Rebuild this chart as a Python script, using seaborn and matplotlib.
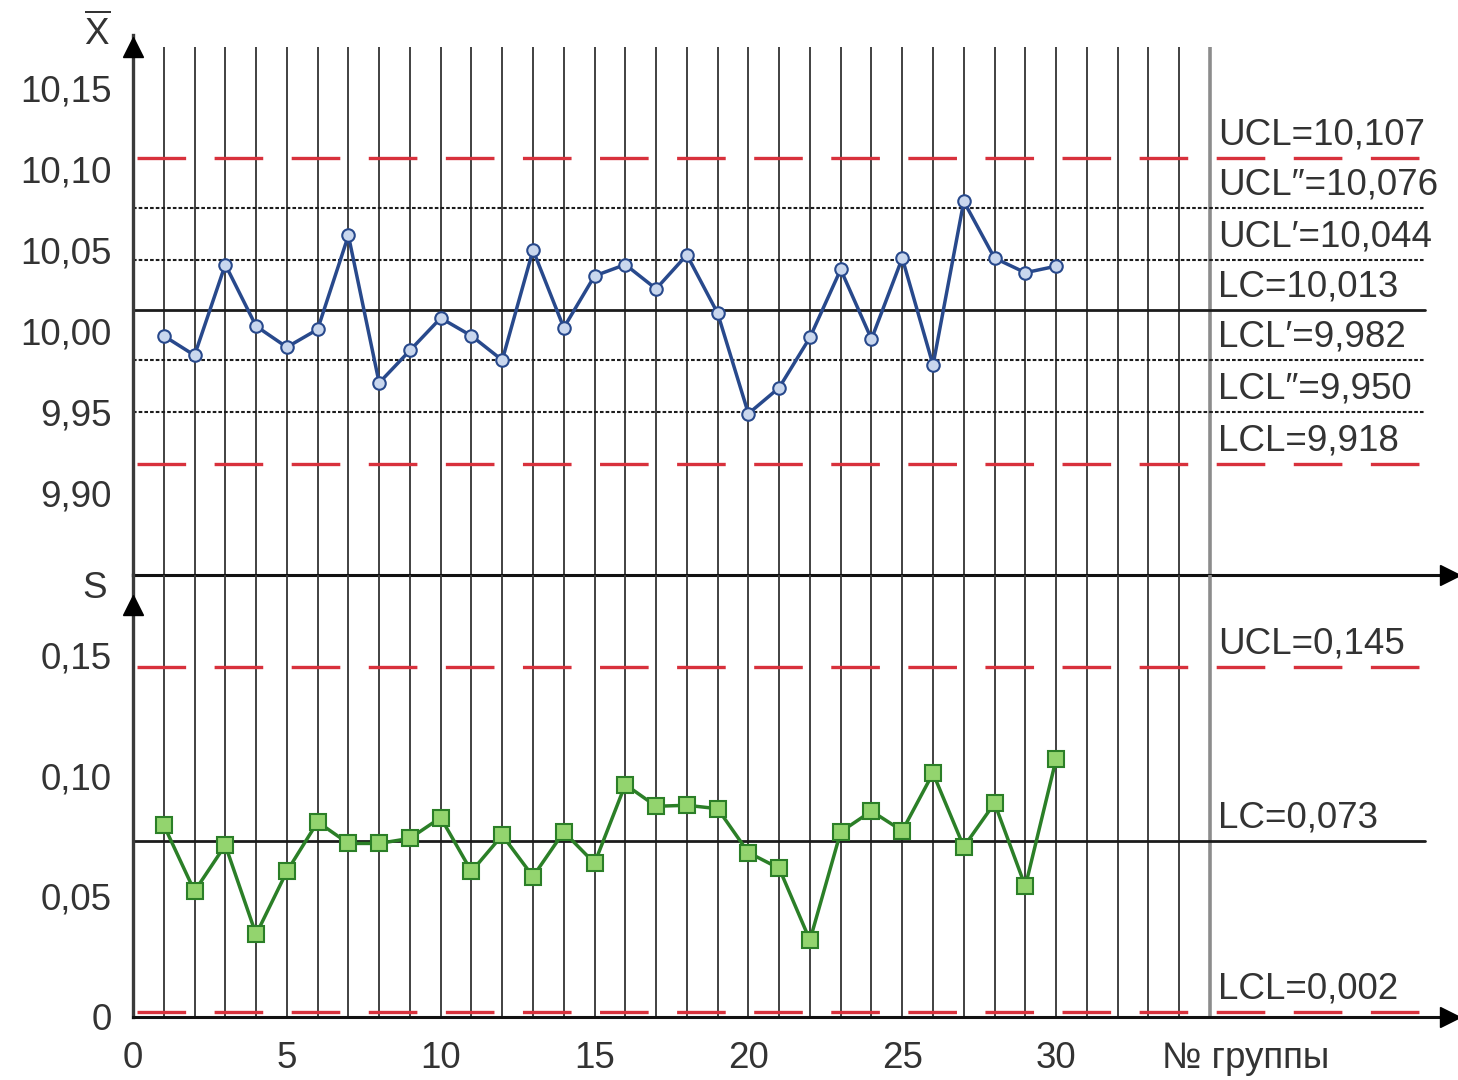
import matplotlib
matplotlib.use("Agg")
import matplotlib.pyplot as plt
import pandas as pd
import seaborn as sns

# ---- data -------------------------------------------------------------
groups = list(range(1, 31))
xbar_values = [9.997, 9.985, 10.041, 10.003, 9.990, 10.001, 10.059, 9.968, 9.988, 10.008,
               9.997, 9.982, 10.050, 10.002, 10.034, 10.041, 10.026, 10.047, 10.011, 9.949,
               9.965, 9.996, 10.038, 9.995, 10.045, 9.979, 10.080, 10.045, 10.036, 10.040]
s_values = [0.0795, 0.0521, 0.0712, 0.0342, 0.0603, 0.0808, 0.0719, 0.0719, 0.0740, 0.0826,
            0.0603, 0.0753, 0.0582, 0.0767, 0.0637, 0.0963, 0.0873, 0.0877, 0.0863, 0.0681,
            0.0616, 0.0318, 0.0767, 0.0853, 0.0771, 0.1010, 0.0705, 0.0886, 0.0541, 0.1068]

xbar_limit_names = ["UCL", "UCL\u2033", "UCL\u2032", "LC", "LCL\u2032", "LCL\u2033", "LCL"]
xbar_limit_values = [10.107, 10.076, 10.044, 10.013, 9.982, 9.950, 9.918]
s_limit_names = ["UCL", "LC", "LCL"]
s_limit_values = [0.145, 0.073, 0.002]

xbar_ticks = [9.90, 9.95, 10.00, 10.05, 10.10, 10.15]
xbar_tick_labels = ["9,90", "9,95", "10,00", "10,05", "10,10", "10,15"]
s_ticks = [0, 0.05, 0.10, 0.15]
s_tick_labels = ["0", "0,05", "0,10", "0,15"]
group_ticks = [0, 5, 10, 15, 20, 25, 30, 35]
group_tick_labels = ["0", "5", "10", "15", "20", "25", "30", ""]
x_axis_title = "№ группы"

df_x = pd.DataFrame({"group": groups, "xbar": xbar_values})
df_s = pd.DataFrame({"group": groups, "s": s_values})

# ---- style ------------------------------------------------------------
sns.set_style("white")
plt.rcParams["font.family"] = ["Liberation Sans", "DejaVu Sans"]
plt.rcParams["mathtext.fontset"] = "custom"
plt.rcParams["mathtext.rm"] = "Liberation Sans"
plt.rcParams["lines.scale_dashes"] = False
FS = 26.5
TXT = "#333333"
RED = "#d8313c"
GRID = "#3a3a3a"

W_PX, H_PX = 1458, 1080
X0_PX = 133
PX_PER_GROUP = 30.77
X_MAX = (W_PX - X0_PX) / PX_PER_GROUP
LINE_END = 42.0

fig = plt.figure(figsize=(W_PX / 100, H_PX / 100), dpi=100)


def rect(top_px, bottom_px):
    return [X0_PX / W_PX, 1 - bottom_px / H_PX, (W_PX - X0_PX) / W_PX,
            (bottom_px - top_px) / H_PX]


ax_x = fig.add_axes(rect(35, 575))
ax_s = fig.add_axes(rect(575, 1017))
ax_x.set_xlim(0, X_MAX)
ax_s.set_xlim(0, X_MAX)
ax_x.set_ylim(9.8494, 10.1827)
ax_s.set_ylim(0, 0.1831)


def limit_style(name):
    if name in ("UCL", "LCL"):
        return dict(color=RED, lw=2.4, linestyle=(52.6, (35.0, 20.5)))
    if name == "LC":
        return dict(color="#1c1c1c", lw=2.0, linestyle="-")
    return dict(color="#1c1c1c", lw=1.5, linestyle=(0, (2.6, 1.5)))


def fmt(v):
    return f"{v:.3f}".replace(".", ",")


for ax, grid_top in ((ax_x, 10.175), (ax_s, 0.1831)):
    y0 = ax.get_ylim()[0]
    ax.vlines(range(1, 35), y0, grid_top, colors=GRID, lw=1.35, zorder=1)
    ax.vlines([35], y0, grid_top, colors="#8c8c8c", lw=2.6, zorder=1)

for ax, names, values in ((ax_x, xbar_limit_names, xbar_limit_values),
                          (ax_s, s_limit_names, s_limit_values)):
    for name, v in zip(names, values):
        ax.axhline(v, xmin=0, xmax=LINE_END / X_MAX, zorder=2, **limit_style(name))
        ax.annotate(f"{name}={fmt(v)}", xy=(35.25, v), xytext=(0, 9.5),
                    textcoords="offset points", ha="left", va="baseline",
                    fontsize=FS, color=TXT, zorder=5)

# ---- series -----------------------------------------------------------
sns.lineplot(data=df_x, x="group", y="xbar", ax=ax_x, color="#28498c", lw=2.5,
             marker="o", markersize=9, markerfacecolor="#c9d7ee",
             markeredgecolor="#28498c", markeredgewidth=1.5, zorder=4)
sns.lineplot(data=df_s, x="group", y="s", ax=ax_s, color="#2b7f27", lw=2.5,
             marker="s", markersize=12, markerfacecolor="#93d46e",
             markeredgecolor="#2b7f27", markeredgewidth=1.5, zorder=4)

# ---- axes -------------------------------------------------------------
for ax in (ax_x, ax_s):
    for side in ("top", "right"):
        ax.spines[side].set_visible(False)
    ax.spines["left"].set_color("#3a3a3a")
    ax.spines["left"].set_linewidth(2.4)
    ax.spines["bottom"].set_color("#111111")
    ax.spines["bottom"].set_linewidth(2.2)
    ax.spines["left"].set_zorder(3)
    ax.spines["bottom"].set_zorder(3)
    ax.set_xlabel("")
    ax.set_ylabel("")
    ax.tick_params(axis="y", direction="out", length=9.5, width=1.3, colors="#444444",
                   labelcolor=TXT, labelsize=FS, pad=6)
    ax.set_facecolor("none")
    # arrowhead at the right end of the group axis
    ax.plot([X_MAX - 0.26], [ax.get_ylim()[0]], marker=">", markersize=15,
            color="black", clip_on=False, zorder=6)

ax_x.set_yticks(xbar_ticks, xbar_tick_labels)
ax_s.set_yticks(s_ticks, s_tick_labels)
ax_x.set_xticks([])
ax_s.set_xticks(group_ticks, group_tick_labels)
ax_s.tick_params(axis="x", direction="out", length=12, width=1.3, colors="#444444",
                 labelcolor=TXT, labelsize=FS, pad=5)

# arrowheads at the top of each value axis
ax_x.plot([0], [10.1755], marker="^", markersize=15, color="black", clip_on=False, zorder=6)
ax_s.plot([0], [0.1705], marker="^", markersize=15, color="black", clip_on=False, zorder=6)

ax_s.annotate(x_axis_title, xy=(36.17, 0), xycoords=("data", "axes fraction"),
              xytext=(0, -17), textcoords="offset points", ha="center", va="top",
              fontsize=FS, color=TXT)

fig.text(97 / W_PX, 1 - 33 / H_PX, r"$\overline{\mathrm{X}}$", ha="center", va="center",
         fontsize=FS, color=TXT)
fig.text(95 / W_PX, 1 - 588 / H_PX, "S", ha="center", va="center", fontsize=FS, color=TXT)

fig.savefig("out.png", dpi=100, facecolor="white")
